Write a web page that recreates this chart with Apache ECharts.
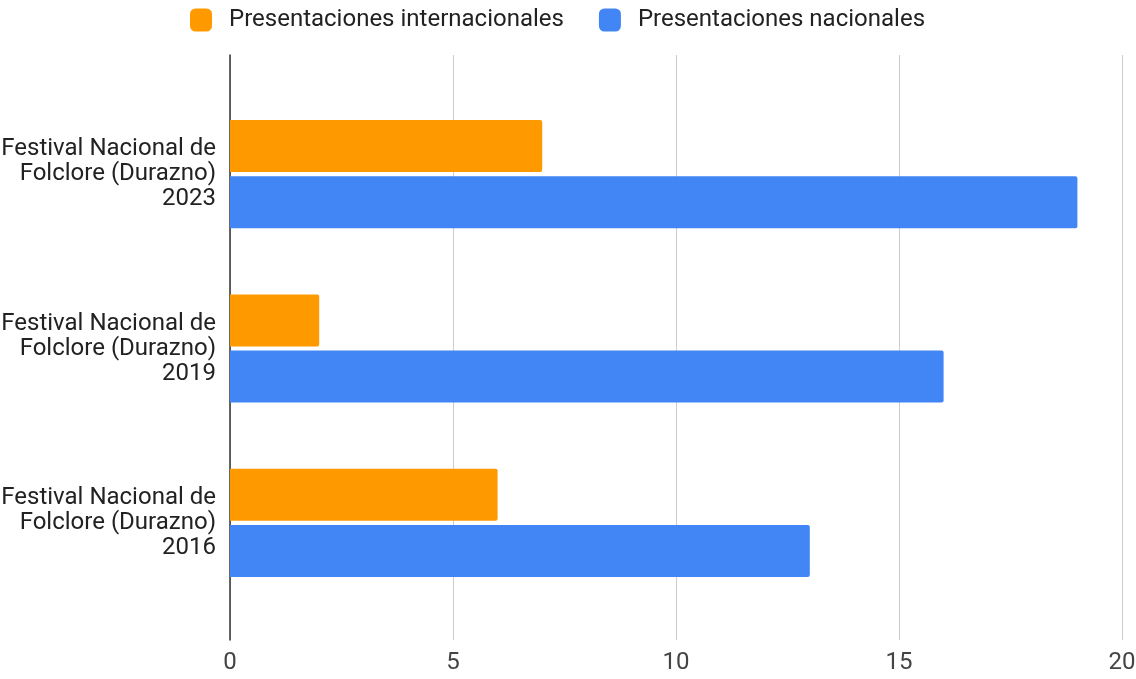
<!DOCTYPE html>
<html><head><meta charset="utf-8">
<script src="https://cdn.jsdelivr.net/npm/echarts@6/dist/echarts.min.js"></script>
<style>html,body{margin:0;padding:0;background:#fff}#c{width:1136px;height:679px}</style>
</head><body><div id="c"></div>
<script>
const categories = ['Festival Nacional de\nFolclore (Durazno)\n2016','Festival Nacional de\nFolclore (Durazno)\n2019','Festival Nacional de\nFolclore (Durazno)\n2023'];
const internacionales = [6, 2, 7];
const nacionales = [13, 16, 19];
const xTicks = [0, 5, 10, 15, 20];

const chart = echarts.init(document.getElementById('c'));
chart.setOption({
  animation: false,
  textStyle: {fontFamily: 'Roboto'},
  legend: {
    top: 3, left: 185, itemWidth: 22, itemHeight: 23, itemGap: 35,
    icon: 'roundRect',
    textStyle: {fontSize: 24, color: '#222', fontFamily: 'Roboto', padding: [0,0,0,12]},
    data: ['Presentaciones internacionales','Presentaciones nacionales']
  },
  grid: [
    {left: 230, right: 14, top: 55, bottom: 39, outerBoundsMode: 'none', containLabel: false},
    {left: 230, right: 14, top: 87, bottom: 69, outerBoundsMode: 'none', containLabel: false}
  ],
  xAxis: [
    {gridIndex: 0, type: 'value', min: xTicks[0], max: xTicks[xTicks.length-1], interval: 5,
     axisLine: {show: false}, axisTick: {show: false},
     axisLabel: {fontSize: 24, color: '#444', margin: 11},
     splitLine: {lineStyle: {color: '#cccccc', width: 1}}},
    {gridIndex: 1, type: 'value', min: 0, max: 20, show: false}
  ],
  yAxis: [
    {gridIndex: 0, type: 'value', min: 0, max: 1, axisLabel: {show: false}, splitLine: {show: false},
     axisTick: {show: false}, axisLine: {show: true, lineStyle: {color: '#333', width: 1.5}}},
    {gridIndex: 1, type: 'category', data: categories,
     axisLine: {show: false}, axisTick: {show: false},
     axisLabel: {fontSize: 24, color: '#222', lineHeight: 25, margin: 14, align: 'right'}}
  ],
  series: [
    {name: 'Presentaciones internacionales', type: 'bar', xAxisIndex: 1, yAxisIndex: 1,
     data: internacionales, barWidth: 52, barGap: '8%', itemStyle: {color: '#ff9900', borderRadius: [0,2,2,0]}},
    {name: 'Presentaciones nacionales', type: 'bar', xAxisIndex: 1, yAxisIndex: 1,
     data: nacionales, barWidth: 52, barGap: '8%', itemStyle: {color: '#4285f4', borderRadius: [0,2,2,0]}}
  ]
});
</script></body></html>
